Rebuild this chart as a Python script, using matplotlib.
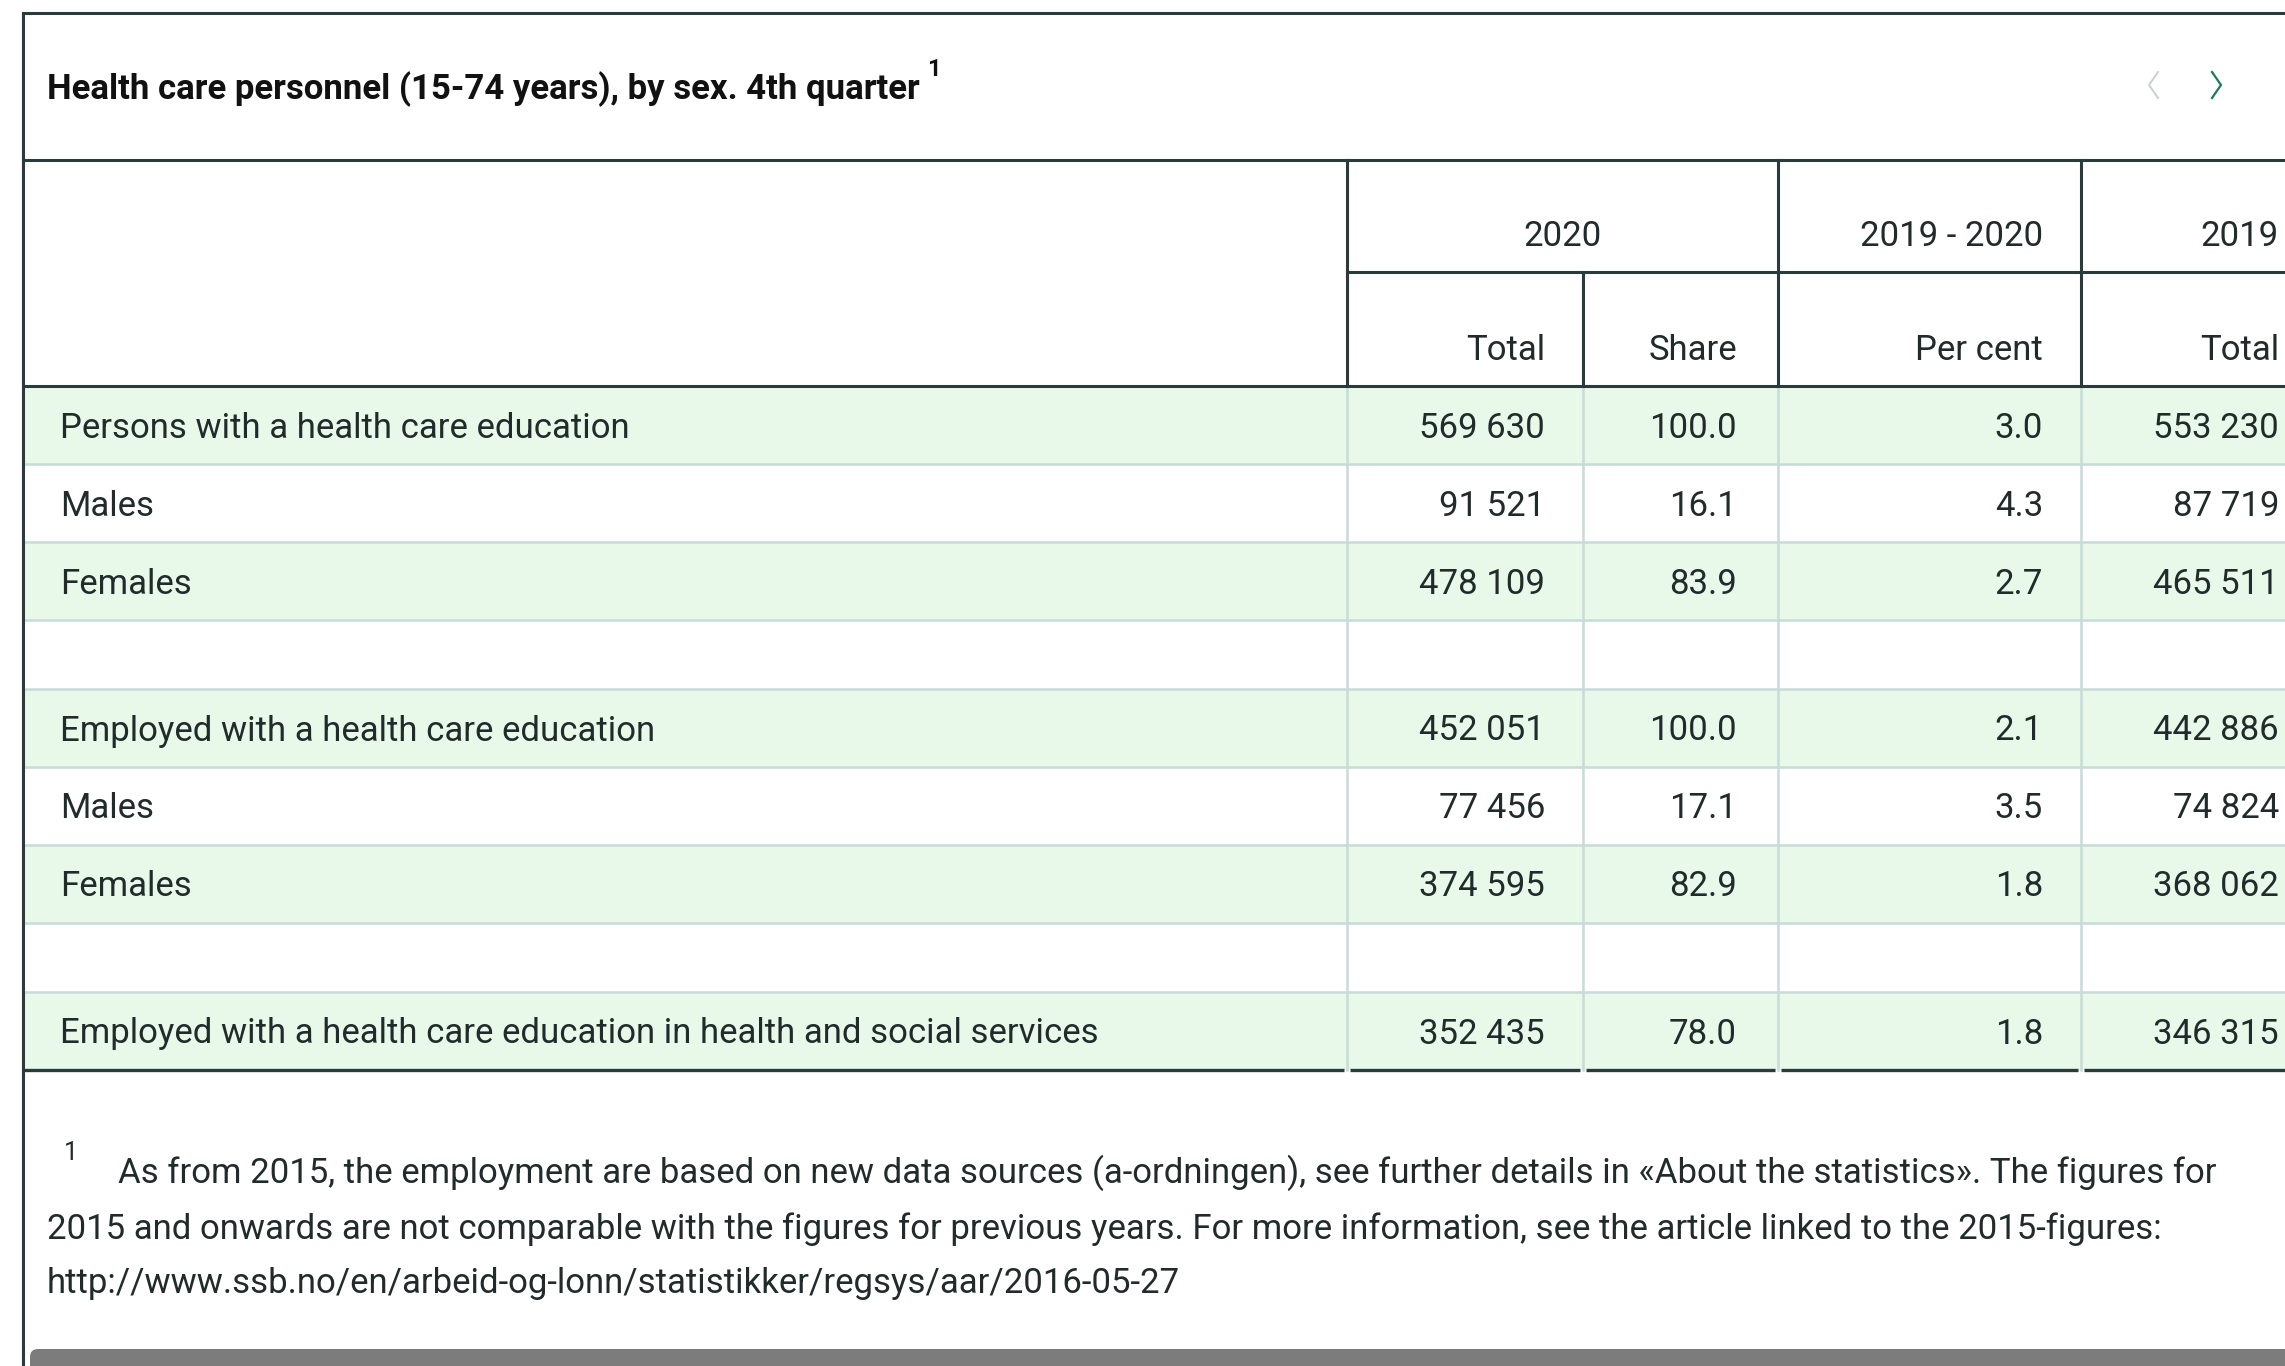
import matplotlib
matplotlib.use("Agg")
import matplotlib.pyplot as plt
from matplotlib.patches import Rectangle, FancyBboxPatch

plt.rcParams["font.family"] = ["Roboto", "DejaVu Sans"]

# -----------------------------------------------------
# TABLE DATA
# -----------------------------------------------------
title = "Health care personnel (15-74 years), by sex. 4th quarter"
group_headers = ["2020", "2019 - 2020", "2019"]
col_headers = ["Total", "Share", "Per cent", "Total"]

row_labels = [
    "Persons with a health care education",
    "Males",
    "Females",
    "",
    "Employed with a health care education",
    "Males",
    "Females",
    "",
    "Employed with a health care education in health and social services",
]
total_2020 = [569630, 91521, 478109, None, 452051, 77456, 374595, None, 352435]
share_2020 = [100.0, 16.1, 83.9, None, 100.0, 17.1, 82.9, None, 78.0]
pct_change = [3.0, 4.3, 2.7, None, 2.1, 3.5, 1.8, None, 1.8]
total_2019 = [553230, 87719, 465511, None, 442886, 74824, 368062, None, 346315]

footnote_lines = [
    "As from 2015, the employment are based on new data sources (a-ordningen), see further details in «About the statistics». The figures for",
    "2015 and onwards are not comparable with the figures for previous years. For more information, see the article linked to the 2015-figures:",
    "http://www.ssb.no/en/arbeid-og-lonn/statistikker/regsys/aar/2016-05-27",
]

# -----------------------------------------------------
# STYLE / LAYOUT (pixel space)
# -----------------------------------------------------
W, H = 2285, 1366
DARK = "#2a3b3b"
LIGHT = "#c7dbd8"
GREEN = "#e8f9ea"
TEXT = "#222b2b"
FS = 25

left = 23
top = 13
title_bottom = 160
head_mid = 272
head_bottom = 386
col_edges = [1347, 1583, 1778, 2081]
num_right = [1545, 1737, 2043, 2279]
row_h_data, row_h_blank = 78, 69


def fmt_int(v):
    return f"{v:,}".replace(",", " ")


def fmt_dec(v):
    return f"{v:.1f}"


fig = plt.figure(figsize=(W / 100, H / 100), dpi=100)
ax = fig.add_axes([0, 0, 1, 1])
ax.set_xlim(0, W)
ax.set_ylim(H, 0)
ax.axis("off")

# --- Rows ---
y = head_bottom
row_edges = [y]
for i, lab in enumerate(row_labels):
    h = row_h_data if lab else row_h_blank
    if i % 2 == 0:
        ax.add_patch(Rectangle((left, y), W - left, h, color=GREEN, lw=0, zorder=0))
    yc = y + h / 2 + 3
    if lab:
        ax.text(60, yc, lab, fontsize=FS, color=TEXT, va="center", ha="left")
        vals = [fmt_int(total_2020[i]), fmt_dec(share_2020[i]),
                fmt_dec(pct_change[i]), fmt_int(total_2019[i])]
        for xr, v in zip(num_right, vals):
            ax.text(xr, yc, v, fontsize=FS, color=TEXT, va="center", ha="right")
    y += h
    row_edges.append(y)

table_bottom = row_edges[-1]

# light grid in body
for ye in row_edges[1:-1]:
    ax.plot([left, W], [ye, ye], color=LIGHT, lw=1.8, zorder=1)
for xe in col_edges:
    ax.plot([xe, xe], [head_bottom, table_bottom], color=LIGHT, lw=1.8, zorder=1)

# dark frame lines
ax.plot([left, W], [top, top], color=DARK, lw=2.2, zorder=2)
ax.plot([left, W], [title_bottom, title_bottom], color=DARK, lw=2.2, zorder=2)
ax.plot([col_edges[0], W], [head_mid, head_mid], color=DARK, lw=2.2, zorder=2)
ax.plot([left, W], [head_bottom, head_bottom], color=DARK, lw=2.2, zorder=2)
ax.plot([left, left], [top, H], color=DARK, lw=2.2, zorder=2)
for xe in [col_edges[0], col_edges[2], col_edges[3]]:
    ax.plot([xe, xe], [title_bottom, head_bottom], color=DARK, lw=2.2, zorder=2)
ax.plot([col_edges[1], col_edges[1]], [head_mid, head_bottom], color=DARK, lw=2.2, zorder=2)

# bottom rule is broken by small gaps at the column separators
seg_x = [left] + col_edges + [W]
for x0, x1 in zip(seg_x[:-1], seg_x[1:]):
    a = x0 + (3 if x0 != left else 0)
    b = x1 - (3 if x1 != W else 0)
    ax.plot([a, b], [table_bottom, table_bottom], color=DARK, lw=2.4, zorder=2,
            solid_capstyle="butt")

# --- Title ---
ax.text(47, 89, title, fontsize=FS, fontweight="bold", color="#111", va="center", ha="left")
ax.text(927, 69, "1", fontsize=17, fontweight="bold", color="#111", va="center", ha="left")

# nav chevrons
ax.plot([2158, 2149, 2158], [72, 85, 98], color="#c9cfcf", lw=1.4)
ax.plot([2212, 2221, 2212], [72, 85, 98], color="#1d7a5c", lw=1.6)

# --- Header texts ---
y_h1 = 236
y_h2 = 350
ax.text((col_edges[0] + col_edges[2]) / 2, y_h1, group_headers[0], fontsize=FS,
        color=TEXT, va="center", ha="center")
ax.text(num_right[2], y_h1, group_headers[1], fontsize=FS, color=TEXT, va="center", ha="right")
ax.text(num_right[3], y_h1, group_headers[2], fontsize=FS, color=TEXT, va="center", ha="right")
for xr, lab in zip(num_right, col_headers):
    ax.text(xr, y_h2, lab, fontsize=FS, color=TEXT, va="center", ha="right")

# --- Footnote ---
ax.text(64, 1153, "1", fontsize=18, color=TEXT, va="center", ha="left")
ax.text(118, 1173, footnote_lines[0], fontsize=FS, color=TEXT, va="center", ha="left")
ax.text(47, 1229, footnote_lines[1], fontsize=FS, color=TEXT, va="center", ha="left")
ax.text(47, 1284, footnote_lines[2], fontsize=FS, color=TEXT, va="center", ha="left")

# scrollbar
ax.add_patch(FancyBboxPatch((30, 1349), W + 40, 40, boxstyle="round,pad=0,rounding_size=8",
                            color="#7c7c7c", lw=0, zorder=3))

fig.savefig("out.png", dpi=100)
plt.close(fig)
